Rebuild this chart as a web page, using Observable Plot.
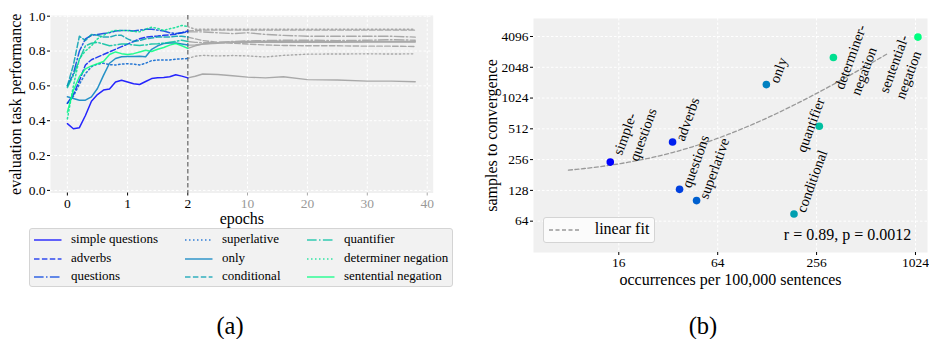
<!DOCTYPE html>
<html><head><meta charset="utf-8">
<script src="https://cdn.jsdelivr.net/npm/d3@7"></script>
<script src="https://cdn.jsdelivr.net/npm/@observablehq/plot@0.6"></script>
<style>
body{margin:0;background:#fff;}
#fig{position:relative;width:929px;height:339px;font-family:"Liberation Serif","Times New Roman",serif;overflow:hidden;background:#fff;color:#000}
#fig svg, #fig svg text{font-family:"Liberation Serif","Times New Roman",serif !important;}
#left{position:absolute;left:0;top:0}
#right{position:absolute;left:480px;top:0}
#legend{position:absolute;left:29px;top:228px;width:424px;height:59px;box-sizing:border-box;background:#f2f2f2;border:1px solid #d4d4d4;border-radius:3px;font-size:13px}
.item{position:absolute;height:14px;line-height:14px;white-space:nowrap}
.item svg{position:absolute;left:0;top:4px}
.item span{position:absolute;left:37px;top:-1px}
#fitlegend{position:absolute;left:542.7px;top:216.7px;width:112.3px;height:26.6px;box-sizing:border-box;background:#fbfbfb;border:1px solid #d4d4d4;border-radius:3px;font-size:16px}
.cap{position:absolute;top:314px;font-size:24.5px;line-height:24px;width:80px;text-align:center}
</style>
</head><body>
<div id="fig">
  <div id="left"></div>
  <div id="right"></div>
  <div id="legend"></div>
  <div id="fitlegend">
    <svg width="40" height="10" style="position:absolute;left:5px;top:7px"><line x1="0" y1="5" x2="32" y2="5" stroke="#999" stroke-width="1.3" stroke-dasharray="4,2.5"/></svg>
    <span style="position:absolute;left:51px;top:2px;">linear fit</span>
  </div>
  <div class="cap" style="left:190px">(a)</div>
  <div class="cap" style="left:663px">(b)</div>
</div>
<script>
// ---------------- Panel (a) data ----------------
const seriesNames = ["simple questions","adverbs","questions","superlative","only","conditional","quantifier","determiner negation","sentential negation"];
const earlyEpochs = [0,0.1,0.2,0.3,0.4,0.5,0.6,0.7,0.8,0.9,1.0,1.1,1.2,1.3,1.4,1.5,1.6,1.7,1.8,1.9,2.0];
const simpleQuestionsEarly = [0.383,0.354,0.36,0.43,0.512,0.55,0.576,0.582,0.622,0.632,0.622,0.612,0.608,0.625,0.642,0.646,0.648,0.652,0.664,0.656,0.646];
const adverbsEarly = [0.50,0.55,0.63,0.72,0.75,0.765,0.78,0.795,0.81,0.825,0.84,0.855,0.87,0.88,0.883,0.886,0.89,0.893,0.897,0.905,0.915];
const questionsEarly = [0.60,0.67,0.80,0.87,0.89,0.895,0.90,0.905,0.915,0.918,0.918,0.915,0.92,0.925,0.925,0.92,0.915,0.905,0.90,0.905,0.91];
const superlativeEarly = [0.50,0.54,0.61,0.67,0.71,0.725,0.73,0.722,0.72,0.725,0.727,0.725,0.72,0.73,0.745,0.748,0.748,0.749,0.753,0.755,0.757];
const onlyEarly = [0.537,0.528,0.518,0.518,0.537,0.585,0.66,0.73,0.757,0.767,0.768,0.768,0.77,0.767,0.81,0.83,0.843,0.846,0.846,0.84,0.834];
const conditionalEarly = [0.60,0.72,0.885,0.86,0.895,0.89,0.88,0.88,0.89,0.89,0.87,0.855,0.86,0.87,0.875,0.88,0.88,0.88,0.885,0.885,0.88];
const quantifierEarly = [0.59,0.66,0.75,0.83,0.845,0.85,0.84,0.83,0.835,0.84,0.84,0.835,0.832,0.835,0.84,0.842,0.845,0.85,0.855,0.862,0.855];
const determinerNegationEarly = [0.41,0.60,0.757,0.80,0.83,0.87,0.89,0.91,0.918,0.918,0.918,0.912,0.91,0.925,0.937,0.93,0.918,0.928,0.935,0.947,0.94];
const sententialNegationEarly = [0.449,0.575,0.652,0.698,0.715,0.727,0.74,0.78,0.795,0.785,0.78,0.785,0.795,0.805,0.797,0.81,0.82,0.834,0.843,0.83,0.815];

const lateEpochs = [2,3,4,6,8,10,13,16,20,25,30,34,38];
const simpleQuestionsLate = [0.646,0.655,0.668,0.665,0.658,0.650,0.646,0.652,0.636,0.634,0.627,0.627,0.624];
const adverbsLate = [0.915,0.918,0.92,0.92,0.92,0.92,0.92,0.92,0.92,0.92,0.92,0.92,0.92];
const questionsLate = [0.91,0.91,0.91,0.905,0.90,0.905,0.895,0.89,0.885,0.885,0.885,0.885,0.88];
const superlativeLate = [0.757,0.77,0.775,0.772,0.774,0.772,0.766,0.775,0.782,0.783,0.784,0.783,0.784];
const onlyLate = [0.834,0.835,0.84,0.848,0.852,0.855,0.855,0.856,0.855,0.854,0.855,0.855,0.855];
const conditionalLate = [0.88,0.87,0.86,0.85,0.845,0.84,0.835,0.832,0.83,0.83,0.828,0.828,0.826];
const quantifierLate = [0.855,0.85,0.848,0.85,0.855,0.858,0.86,0.862,0.862,0.86,0.862,0.865,0.862];
const determinerNegationLate = [0.94,0.925,0.925,0.925,0.925,0.925,0.925,0.925,0.925,0.925,0.925,0.925,0.925];
const sententialNegationLate = [0.815,0.83,0.84,0.845,0.85,0.85,0.85,0.85,0.85,0.85,0.852,0.852,0.852];

const yTicksA = [0,0.2,0.4,0.6,0.8,1.0];
const xTicksEarly = [0,1,2];
const xTicksLate = [10,20,30,40];

// ---------------- Panel (b) data ----------------
const phenomena = ["simple-questions","adverbs","questions","superlative","only","conditional","quantifier","determiner-negation","sentential-negation"];
const pointLabels = ["simple-\nquestions","adverbs","questions","superlative","only","conditional","quantifier","determiner-\nnegation","sentential-\nnegation"];
const occurrences = [14.2,34,37.5,47.6,126.6,186.5,266,324,1060];
const samplesToConvergence = [242,380,131,101.7,1386,75.2,542,2556,4040];
const fitXRange = [7.9,704];
const fitStats = ["r = 0.89", "p = 0.0012"];
const xTicksB = [16,64,256,1024];
const yTicksB = [64,128,256,512,1024,2048,4096];

// ---------------- styling ----------------
const winter = i => d3.interpolateRgb("#0000ff","#00ff80")(i/8);
const colors = seriesNames.map((_, i) => winter(i));
const DASHED = "5.5,2.4", DASHDOT = "9.6,2.4,1.5,2.4", DOTTED = "1.5,2.5", SOLID = null;
const dashes = [SOLID, DASHED, DASHDOT, DOTTED, SOLID, DASHED, DASHDOT, DOTTED, SOLID];
const earlySeries = [simpleQuestionsEarly, adverbsEarly, questionsEarly, superlativeEarly, onlyEarly, conditionalEarly, quantifierEarly, determinerNegationEarly, sententialNegationEarly];
const lateSeries = [simpleQuestionsLate, adverbsLate, questionsLate, superlativeLate, onlyLate, conditionalLate, quantifierLate, determinerNegationLate, sententialNegationLate];

const font = "'Liberation Serif', 'Times New Roman', serif";
const gridStyle = {stroke: "#ffffff", strokeOpacity: 1, strokeWidth: 1, strokeDasharray: "2.5,2"};

const earlyRows = earlySeries.map((vals, i) => vals.map((v, k) => ({series: seriesNames[i], epoch: earlyEpochs[k], value: v})));
const lateRows = lateSeries.map((vals, i) => vals.map((v, k) => ({series: seriesNames[i], epoch: lateEpochs[k], value: v})));

const left = Plot.plot({
  width: 460, height: 230,
  marginLeft: 50, marginRight: 27.3, marginTop: 15, marginBottom: 37.5,
  style: {fontFamily: font, fontSize: "13.5px", background: "transparent", overflow: "visible", color: "#000"},
  x: {type: "linear", domain: [-0.28, 2, 10, 41], range: [50, 187.3, 247, 432.7]},
  y: {domain: [-0.015, 1.004], range: [192.5, 15]},
  marks: [
    Plot.frame({fill: "#f0f0f0", stroke: "none"}),
    Plot.gridY(yTicksA, gridStyle),
    Plot.gridX([...xTicksEarly, ...xTicksLate], gridStyle),
    ...lateRows.map((rows, i) => Plot.line(rows, {x: "epoch", y: "value", stroke: "#a9a9a9", strokeWidth: 1.4, strokeDasharray: dashes[i]})),
    Plot.ruleX([2], {stroke: "#808080", strokeWidth: 1.5, strokeDasharray: "4.5,2.5"}),
    ...earlyRows.map((rows, i) => Plot.line(rows, {x: "epoch", y: "value", stroke: colors[i], strokeOpacity: 0.85, strokeWidth: 1.5, strokeDasharray: dashes[i]})),
    Plot.axisY(yTicksA, {tickSize: 3, tickPadding: 2, tickFormat: d => d.toFixed(1), label: null, fontSize: 13.5}),
    Plot.axisX(xTicksEarly, {tickSize: 3, tickPadding: 2, label: null, fontSize: 13.5}),
    Plot.axisX(xTicksLate, {tickSize: 3, tickPadding: 2, label: null, fontSize: 13.5, stroke: "#aaa", fill: "#999"}),
    Plot.text(["epochs"], {text: d => d, frameAnchor: "bottom", textAnchor: "middle", lineAnchor: "middle", dy: 25.5, fontSize: 16}),
    Plot.text(["evaluation task performance"], {text: d => d, frameAnchor: "left", textAnchor: "middle", lineAnchor: "middle", rotate: -90, dx: -35, fontSize: 16})
  ]
});
document.getElementById("left").append(left);

// legend (a)
const legend = document.getElementById("legend");
const colX = [4, 155, 277];
const rowY = [4.3, 22.7, 41];
seriesNames.forEach((name, i) => {
  const col = Math.floor(i / 3), row = i % 3;
  const div = document.createElement("div");
  div.className = "item";
  div.style.left = colX[col] + "px";
  div.style.top = rowY[row] + "px";
  div.innerHTML = `<svg width="30" height="6"><line x1="0" y1="3" x2="27.5" y2="3" stroke="${colors[i]}" stroke-opacity="0.8" stroke-width="1.5" ${dashes[i] ? `stroke-dasharray="${dashes[i]}"` : ""}/></svg><span>${name}</span>`;
  legend.append(div);
});

// ---------------- Panel (b) ----------------
const points = phenomena.map((p, i) => ({name: p, label: pointLabels[i], x: occurrences[i], y: samplesToConvergence[i], color: colors[i]}));
const mx = d3.mean(occurrences), my = d3.mean(samplesToConvergence);
const slope = d3.sum(occurrences, (x, i) => (x - mx) * (samplesToConvergence[i] - my)) / d3.sum(occurrences, x => (x - mx) ** 2);
const intercept = my - slope * mx;
const fitRows = d3.range(81).map(k => {
  const x = fitXRange[0] * Math.pow(fitXRange[1] / fitXRange[0], k / 80);
  return {x, y: intercept + slope * x};
});

// label placement (pixel offsets from each point)
const labelOffsets = [[14.5,-5],[6.5,-2],[6,-2.5],[6,-2.5],[7,-2.5],[6,-2.5],[-19,25],[13,34],[-27,58]];

const right = Plot.plot({
  width: 449, height: 300,
  marginLeft: 53, marginRight: 2, marginTop: 18, marginBottom: 48,
  style: {fontFamily: font, fontSize: "13.5px", background: "transparent", overflow: "visible", color: "#000"},
  x: {type: "log", base: 2, domain: [4.84, 1212]},
  y: {type: "log", base: 2, domain: [31.6, 6142]},
  marks: [
    Plot.frame({fill: "#f0f0f0", stroke: "none"}),
    Plot.gridY(yTicksB, gridStyle),
    Plot.gridX(xTicksB, gridStyle),
    Plot.line(fitRows, {x: "x", y: "y", stroke: "#999", strokeWidth: 1.3, strokeDasharray: "4,2.5"}),
    Plot.dot(points, {x: "x", y: "y", fill: "color", r: 3.8, stroke: "none"}),
    ...points.map((p, i) => Plot.text([p], {x: "x", y: "y", text: "label", rotate: -70, textAnchor: "start", lineAnchor: "middle", lineHeight: 1.2, fontSize: 14.5, dx: labelOffsets[i][0], dy: labelOffsets[i][1]})),
    Plot.axisY(yTicksB, {tickSize: 3, tickPadding: 2, tickFormat: d => String(d), label: null, fontSize: 13.5}),
    Plot.axisX(xTicksB, {tickSize: 3, tickPadding: 2, tickFormat: d => String(d), label: null, fontSize: 13.5}),
    Plot.text(["occurrences per 100,000 sentences"], {text: d => d, frameAnchor: "bottom", textAnchor: "middle", lineAnchor: "middle", dy: 27, fontSize: 16}),
    Plot.text(["samples to convergence"], {text: d => d, frameAnchor: "left", textAnchor: "middle", lineAnchor: "middle", rotate: -90, dx: -41.3, fontSize: 16}),
    Plot.text([fitStats.join(", ")], {text: d => d, frameAnchor: "bottom-right", textAnchor: "end", lineAnchor: "middle", dx: -16.3, dy: -17.6, fontSize: 16})
  ]
});
document.getElementById("right").append(right);
</script>
</body></html>
